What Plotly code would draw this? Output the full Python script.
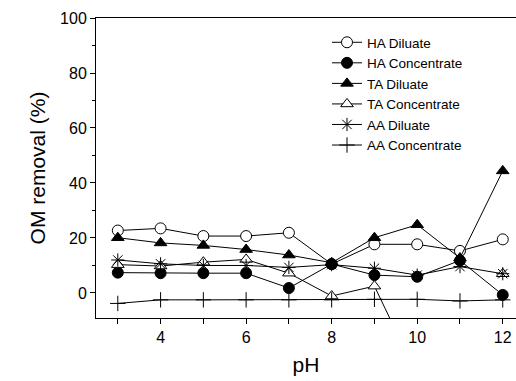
import plotly.graph_objects as go

pH = [3, 4, 5, 6, 7, 8, 9, 10, 11, 12]
HA_diluate = [22.7, 23.5, 20.7, 20.7, 21.9, 10.5, 17.7, 17.7, 15.3, 19.5]
HA_concentrate = [7.4, 7.2, 7.2, 7.2, 1.8, 10.5, 6.5, 5.9, 11.8, -0.7]
TA_diluate = [20.1, 18.2, 17.3, 15.8, 13.8, 11.0, 20.1, 24.8, 12.7, 44.4]
TA_concentrate = [10.3, 9.8, 11.2, 12.2, 7.2, -1.1, 2.5, -30.0, None, 7.0]
AA_diluate = [12.0, 10.6, 10.0, 10.0, 9.3, 10.3, 9.0, 6.5, 9.6, 7.0]
AA_concentrate = [-3.8, -2.5, -2.5, -2.5, -2.5, -2.5, -2.3, -2.3, -2.9, -2.5]

series = [
    ("HA Diluate", HA_diluate, "circle", "white"),
    ("HA Concentrate", HA_concentrate, "circle", "black"),
    ("TA Diluate", TA_diluate, "triangle-up", "black"),
    ("TA Concentrate", TA_concentrate, "triangle-up", "white"),
    ("AA Diluate", AA_diluate, "asterisk-open", "black"),
    ("AA Concentrate", AA_concentrate, "cross-thin-open", "black"),
]

fig = go.Figure()
for name, vals, sym, fill in series:
    fig.add_trace(go.Scatter(
        x=pH, y=vals, name=name, mode="lines+markers",
        line=dict(color="black", width=1),
        marker=dict(symbol=sym, size=11, color=fill,
                    line=dict(color="black", width=1)),
        connectgaps=False, cliponaxis=True,
    ))

fig.update_layout(
    width=516, height=381,
    margin=dict(l=96, r=0, t=18, b=63),
    paper_bgcolor="white", plot_bgcolor="white",
    font=dict(family="Liberation Sans, Arial, sans-serif", color="black"),
    legend=dict(x=0.55, y=0.97, xanchor="left", yanchor="top",
                bgcolor="rgba(0,0,0,0)", font=dict(size=13.5),
                tracegroupgap=0, itemwidth=30),
    showlegend=True,
)
fig.update_xaxes(
    range=[2.49, 12.31], tickvals=[4, 6, 8, 10, 12],
    ticks="outside", ticklen=5, tickcolor="black",
    minor=dict(tickvals=[3, 5, 7, 9, 11], ticks="outside", ticklen=5, tickcolor="black"),
    showline=True, linecolor="black", linewidth=1, mirror=True,
    showgrid=False, zeroline=False,
    tickfont=dict(size=16),
    title=dict(text="pH", font=dict(size=21), standoff=12),
)
fig.update_yaxes(
    range=[-9.1, 100], tickvals=[0, 20, 40, 60, 80, 100],
    ticks="outside", ticklen=5, tickcolor="black",
    minor=dict(tickvals=[10, 30, 50, 70, 90], ticks="outside", ticklen=3, tickcolor="black"),
    showline=True, linecolor="black", linewidth=1,
    showgrid=False, zeroline=False,
    tickfont=dict(size=16),
    title=dict(text="OM removal (%)", font=dict(size=21), standoff=8),
)

fig.write_html("out.html", config={"displayModeBar": False},
               post_script="document.body.style.margin='0';document.body.style.overflow='hidden';")
